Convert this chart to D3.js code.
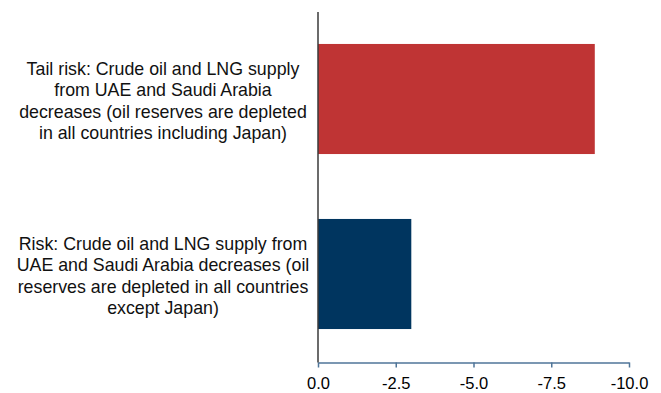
<!DOCTYPE html>
<html>
<head>
<meta charset="utf-8">
<script src="https://cdn.jsdelivr.net/npm/d3@7"></script>
<style>
  html, body { margin: 0; padding: 0; background: #fff; }
  svg { display: block; font-family: "Liberation Sans", Arial, sans-serif; }
</style>
</head>
<body>
<svg id="chart" width="661" height="393"></svg>
<script>
// Scenario labels (one array entry per text line) and impact values
const scenarios = [
  ["Tail risk: Crude oil and LNG supply", "from UAE and Saudi Arabia", "decreases (oil reserves are depleted", "in all countries including Japan)"],
  ["Risk: Crude oil and LNG supply from", "UAE and Saudi Arabia decreases (oil", "reserves are depleted in all countries", "except Japan)"]
];
const values = [-8.9, -3.0];
const barColors = ["#bf3434", "#00355f"];
const xTicks = [0, -2.5, -5, -7.5, -10];

const svg = d3.select("#chart");
const margin = { left: 318, right: 32, top: 12, bottom: 31 };
const W = 661, H = 393;

const x = d3.scaleLinear().domain([0, -10]).range([margin.left, W - margin.right]);
const y = d3.scaleBand()
  .domain(d3.range(scenarios.length))
  .range([margin.top - 0.5, H - margin.bottom - 0.5])
  .paddingInner(0.371)
  .paddingOuter(0.1855);

// Bars
svg.append("g").selectAll("rect")
  .data(values)
  .join("rect")
  .attr("x", x(0))
  .attr("y", (d, i) => y(i))
  .attr("width", d => x(d) - x(0))
  .attr("height", y.bandwidth())
  .attr("fill", (d, i) => barColors[i]);

// Category labels, centred to the left of the axis
const lineH = 21.5;
const labels = svg.append("g")
  .attr("font-size", 17.8)
  .attr("fill", "#111")
  .attr("text-anchor", "middle");
scenarios.forEach((lines, i) => {
  const cy = y(i) + y.bandwidth() / 2;
  const t = labels.append("text").attr("x", 163);
  lines.forEach((ln, j) => {
    t.append("tspan")
      .attr("x", 163)
      .attr("y", cy + (j - (lines.length - 1) / 2) * lineH + 8)
      .text(ln);
  });
});

// Bottom value axis (plain hyphen for negatives)
const xAxis = d3.axisBottom(x)
  .tickValues(xTicks)
  .tickFormat(d => d.toFixed(1))
  .tickSize(5)
  .tickSizeOuter(0);
const gx = svg.append("g")
  .attr("transform", `translate(0,${H - margin.bottom + 0.5})`)
  .call(xAxis);
gx.select(".domain").attr("stroke", "#4f7598").attr("stroke-width", 1.5);
gx.selectAll(".tick line").attr("stroke", "#4f7598").attr("stroke-width", 1.5);
gx.selectAll(".tick text")
  .attr("fill", "#000")
  .attr("font-size", 16.5)
  .attr("font-family", "Liberation Sans, Arial, sans-serif")
  .attr("dy", "1.1em");

// Vertical zero line
svg.append("line")
  .attr("x1", x(0)).attr("x2", x(0))
  .attr("y1", margin.top)
  .attr("y2", H - margin.bottom + 0.5)
  .attr("stroke", "#3a3a3a")
  .attr("stroke-width", 1.5);
</script>
</body>
</html>
